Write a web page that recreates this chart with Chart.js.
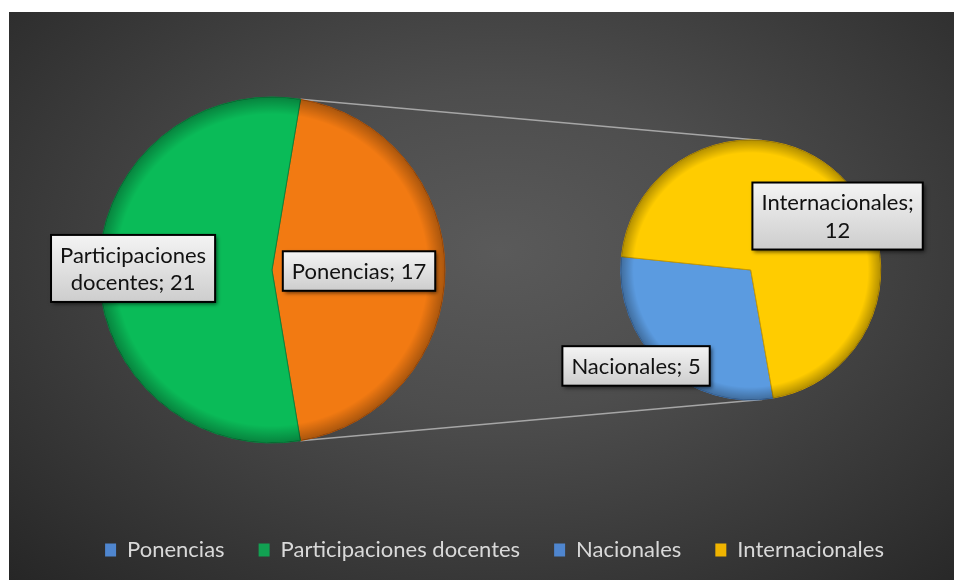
<!DOCTYPE html>
<html>
<head>
<meta charset="utf-8">
<script src="https://cdn.jsdelivr.net/npm/chart.js@4"></script>
<style>
    body { margin: 0; background: #ffffff; }
    #box {
        position: absolute;
        left: 9px;
        top: 12px;
        width: 945px;
        height: 568px;
        background: radial-gradient(ellipse farthest-corner at 52% 42%, #5a5a5a 0%, #4d4d4d 35%, #262626 100%);
    }
</style>
</head>
<body>
<div id="box"><canvas id="canvas1" width="945" height="568"></canvas></div>
<script>
    // data
    let labels = ['Ponencias', 'Participaciones docentes', 'Nacionales', 'Internacionales'];
    let mainValues = [17, 21, null, null];      // primer pastel
    let detailValues = [null, null, 5, 12];     // desglose de Ponencias

    let sliceColors = ['#f27a12', '#0abb58', '#5b9be0', '#ffcc00'];
    let sliceEdges = ['#b85508', '#07863f', '#3f75b5', '#c99a00'];
    let legendColors = ['#4f86cf', '#12a152', '#4f86cf', '#f0b400'];

    let font = 'Lato, "Open Sans", sans-serif';

    // moves the two pies side by side, draws connectors and boxed labels
    let pieOfPie = {
        id: 'pieOfPie',
        afterDatasetsUpdate(chart, args, opts) {
            opts.pies.forEach((p, di) => {
                chart.getDatasetMeta(di).data.forEach(arc => {
                    arc.x = chart.width * p.x;
                    arc.y = chart.height * p.y;
                    arc.innerRadius = 0;
                    arc.outerRadius = chart.height * p.r;
                });
            });
        },
        beforeDatasetsDraw(chart, args, opts) {
            let ctx = chart.ctx;
            let a = chart.getDatasetMeta(0).data[0];
            let b = chart.getDatasetMeta(1).data[2];
            let pts = [a.startAngle, a.endAngle].map(ang => ({
                x: a.x + a.outerRadius * Math.cos(ang),
                y: a.y + a.outerRadius * Math.sin(ang)
            }));
            ctx.save();
            ctx.strokeStyle = '#a6a6a6';
            ctx.lineWidth = 1.5;
            pts.forEach(p => {
                let dx = p.x - b.x, dy = p.y - b.y;
                let d = Math.sqrt(dx * dx + dy * dy);
                let phi = Math.atan2(dy, dx);
                let al = Math.acos(b.outerRadius / d);
                let cands = [phi + al, phi - al].map(t => ({
                    x: b.x + b.outerRadius * Math.cos(t),
                    y: b.y + b.outerRadius * Math.sin(t)
                }));
                cands.sort((u, v) => u.y - v.y);
                let t = p.y < a.y ? cands[0] : cands[1];
                ctx.beginPath();
                ctx.moveTo(p.x, p.y);
                ctx.lineTo(t.x, t.y);
                ctx.stroke();
            });
            ctx.restore();
        },
        afterDatasetsDraw(chart, args, opts) {
            let ctx = chart.ctx;
            ctx.save();
            // rim shading
            [0, 1].forEach(di => {
                let arc = chart.getDatasetMeta(di).data.find(e => e.circumference > 0);
                let R = arc.outerRadius;
                let g = ctx.createRadialGradient(arc.x, arc.y, R * 0.9, arc.x, arc.y, R);
                g.addColorStop(0, 'rgba(0,0,0,0)');
                g.addColorStop(1, 'rgba(0,0,0,0.3)');
                ctx.fillStyle = g;
                ctx.beginPath();
                ctx.arc(arc.x, arc.y, R, 0, Math.PI * 2);
                ctx.fill();
            });

            // labels
            ctx.font = opts.labelSize + 'px ' + font;
            ctx.textAlign = 'center';
            ctx.textBaseline = 'middle';
            chart.data.datasets.forEach((ds, di) => {
                chart.getDatasetMeta(di).data.forEach((arc, i) => {
                    let v = ds.data[i];
                    if (v == null) return;
                    let words = (chart.data.labels[i] + '; ' + v).split(' ');
                    let lines = [words[0]];
                    words.slice(1).forEach(w => {
                        let test = lines[lines.length - 1] + ' ' + w;
                        if (ctx.measureText(test).width > opts.wrap) lines.push(w);
                        else lines[lines.length - 1] = test;
                    });
                    let off = opts.offsets[i];
                    let cx = arc.x + off[0] * arc.outerRadius;
                    let cy = arc.y + off[1] * arc.outerRadius;
                    let lh = opts.labelSize * 1.25;
                    let w = Math.max(...lines.map(l => ctx.measureText(l).width)) + 18;
                    let h = lines.length * lh + 12;
                    let x0 = cx - w / 2, y0 = cy - h / 2;

                    let g = ctx.createLinearGradient(0, y0, 0, y0 + h);
                    g.addColorStop(0, '#f4f4f4');
                    g.addColorStop(1, '#cdcdcd');
                    ctx.shadowColor = 'rgba(0,0,0,0.6)';
                    ctx.shadowBlur = 4;
                    ctx.shadowOffsetX = 2;
                    ctx.shadowOffsetY = 2;
                    ctx.fillStyle = g;
                    ctx.fillRect(x0, y0, w, h);
                    ctx.shadowColor = 'transparent';
                    ctx.lineWidth = 2;
                    ctx.strokeStyle = '#000000';
                    ctx.strokeRect(x0, y0, w, h);

                    ctx.fillStyle = '#111111';
                    lines.forEach((l, k) => {
                        ctx.fillText(l, cx, y0 + 6 + lh * (k + 0.5) + 1);
                    });
                });
            });
            ctx.restore();
        }
    };

    let data = {
        labels: labels,
        datasets: [
            {
                data: mainValues,
                backgroundColor: sliceColors,
                borderColor: sliceEdges,
                borderWidth: [1, 1, 0, 0],
                rotation: 9.5
            },
            {
                data: detailValues,
                backgroundColor: sliceColors,
                borderColor: sliceEdges,
                borderWidth: [0, 0, 1, 1],
                rotation: 170
            }
        ]
    };

    let config = {
        type: 'pie',
        data: data,
        options: {
            responsive: false,
            animation: false,
            layout: {
                padding: { bottom: 9, left: 26 }
            },
            plugins: {
                tooltip: { enabled: false },
                legend: {
                    position: 'bottom',
                    labels: {
                        color: '#d9d9d9',
                        font: { family: font, size: 22 },
                        boxWidth: 11,
                        boxHeight: 13,
                        padding: 34,
                        generateLabels: chart => chart.data.labels.map((t, i) => ({
                            text: t,
                            fillStyle: legendColors[i],
                            strokeStyle: legendColors[i],
                            lineWidth: 0,
                            fontColor: '#d9d9d9',
                            hidden: false,
                            index: i
                        }))
                    }
                },
                pieOfPie: {
                    pies: [
                        { x: 0.2783, y: 0.4542, r: 0.3046 },
                        { x: 0.7849, y: 0.4542, r: 0.2289 }
                    ],
                    labelSize: 22,
                    wrap: 170,
                    offsets: [
                        [0.503, 0.006],
                        [-0.803, -0.009],
                        [-0.882, 0.738],
                        [0.668, -0.415]
                    ]
                }
            }
        },
        plugins: [pieOfPie]
    };

    let myChart = new Chart(document.getElementById('canvas1'), config);
</script>
</body>
</html>
